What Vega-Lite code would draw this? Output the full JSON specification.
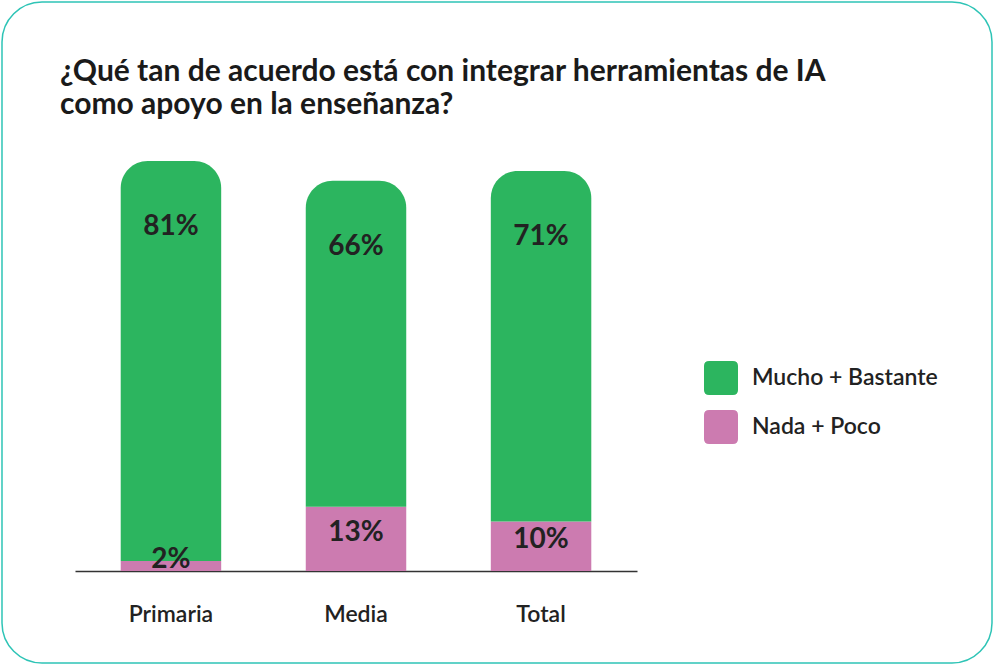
{
  "$schema": "https://vega.github.io/schema/vega-lite/v6.json",
  "width": 990,
  "height": 661,
  "autosize": {"type": "none"},
  "padding": {"left": 2, "top": 2, "right": 1, "bottom": 1},
  "background": "white",
  "config": {
    "view": {"stroke": "#2ec4b6", "strokeWidth": 1.5, "cornerRadius": 40, "fill": "white"},
    "font": "Lato"
  },
  "title": {
    "text": ["¿Qué tan de acuerdo está con integrar herramientas de IA", "como apoyo en la enseñanza?"],
    "anchor": "start",
    "frame": "group",
    "orient": "top",
    "offset": 0,
    "baseline": "top",
    "dx": 58,
    "dy": 118,
    "font": "Lato",
    "fontSize": 30,
    "fontWeight": "bold",
    "color": "#1a1a1a",
    "lineHeight": 33
  },
  "data": {
    "values": [
      {"nivel": "Primaria", "serie": "Mucho + Bastante", "pct": 0.81},
      {"nivel": "Primaria", "serie": "Nada + Poco", "pct": 0.02},
      {"nivel": "Media", "serie": "Mucho + Bastante", "pct": 0.66},
      {"nivel": "Media", "serie": "Nada + Poco", "pct": 0.13},
      {"nivel": "Total", "serie": "Mucho + Bastante", "pct": 0.71},
      {"nivel": "Total", "serie": "Nada + Poco", "pct": 0.10}
    ]
  },
  "transform": [
    {"stack": "pct", "groupby": ["nivel"], "sort": [{"field": "serie", "order": "descending"}], "as": ["y0", "y1"]}
  ],
  "encoding": {
    "x": {
      "field": "nivel",
      "type": "nominal",
      "sort": ["Primaria", "Media", "Total"],
      "scale": {"range": [73, 635], "paddingInner": 0.457, "paddingOuter": 0.247},
      "axis": {
        "title": null,
        "orient": "bottom",
        "offset": -92,
        "domain": true,
        "domainColor": "#333333",
        "domainWidth": 1.5,
        "ticks": false,
        "grid": false,
        "labelAngle": 0,
        "labelFont": "Lato",
        "labelFontSize": 23,
        "labelFontWeight": 600,
        "labelColor": "#222222",
        "labelPadding": 32
      }
    }
  },
  "layer": [
    {
      "transform": [{"filter": "datum.serie === 'Nada + Poco'"}],
      "mark": {"type": "bar"},
      "encoding": {
        "y": {"field": "y1", "type": "quantitative", "scale": {"domain": [0, 0.83], "range": [569, 159], "nice": false, "zero": false}, "axis": null},
        "y2": {"field": "y0"},
        "color": {
          "field": "serie",
          "type": "nominal",
          "scale": {"domain": ["Mucho + Bastante", "Nada + Poco"], "range": ["#2cb55f", "#cc7bb0"]},
          "legend": {
            "orient": "none",
            "legendX": 702,
            "legendY": 359,
            "title": null,
            "padding": 0,
            "symbolType": "M -0.7 -1 L 0.7 -1 Q 1 -1 1 -0.7 L 1 0.7 Q 1 1 0.7 1 L -0.7 1 Q -1 1 -1 0.7 L -1 -0.7 Q -1 -1 -0.7 -1 Z",
            "symbolSize": 1156,
            "symbolStrokeWidth": 0,
            "symbolOpacity": 1,
            "labelFont": "Lato",
            "labelFontSize": 23,
            "labelFontWeight": 600,
            "labelColor": "#222222",
            "labelOffset": 14,
            "labelLimit": 300,
            "rowPadding": 15
          }
        }
      }
    },
    {
      "transform": [{"filter": "datum.serie === 'Mucho + Bastante'"}],
      "mark": {"type": "bar", "cornerRadiusTopLeft": 27, "cornerRadiusTopRight": 27},
      "encoding": {
        "y": {"field": "y1", "type": "quantitative"},
        "y2": {"field": "y0"},
        "color": {"field": "serie", "type": "nominal"}
      }
    },
    {
      "transform": [{"filter": "datum.serie === 'Mucho + Bastante'"}],
      "mark": {"type": "text", "dy": 66, "baseline": "middle", "font": "Lato", "fontSize": 28, "fontWeight": "bold", "color": "#222222"},
      "encoding": {
        "y": {"field": "y1", "type": "quantitative"},
        "text": {"field": "pct", "type": "quantitative", "format": ".0%"}
      }
    },
    {
      "transform": [{"filter": "datum.serie === 'Nada + Poco'"}],
      "mark": {"type": "text", "dy": -6, "baseline": "middle", "font": "Lato", "fontSize": 28, "fontWeight": "bold", "color": "#222222"},
      "encoding": {
        "y": {"field": "pct", "type": "quantitative", "stack": "zero", "bandPosition": 0.5},
        "text": {"field": "pct", "type": "quantitative", "format": ".0%"}
      }
    }
  ]
}
